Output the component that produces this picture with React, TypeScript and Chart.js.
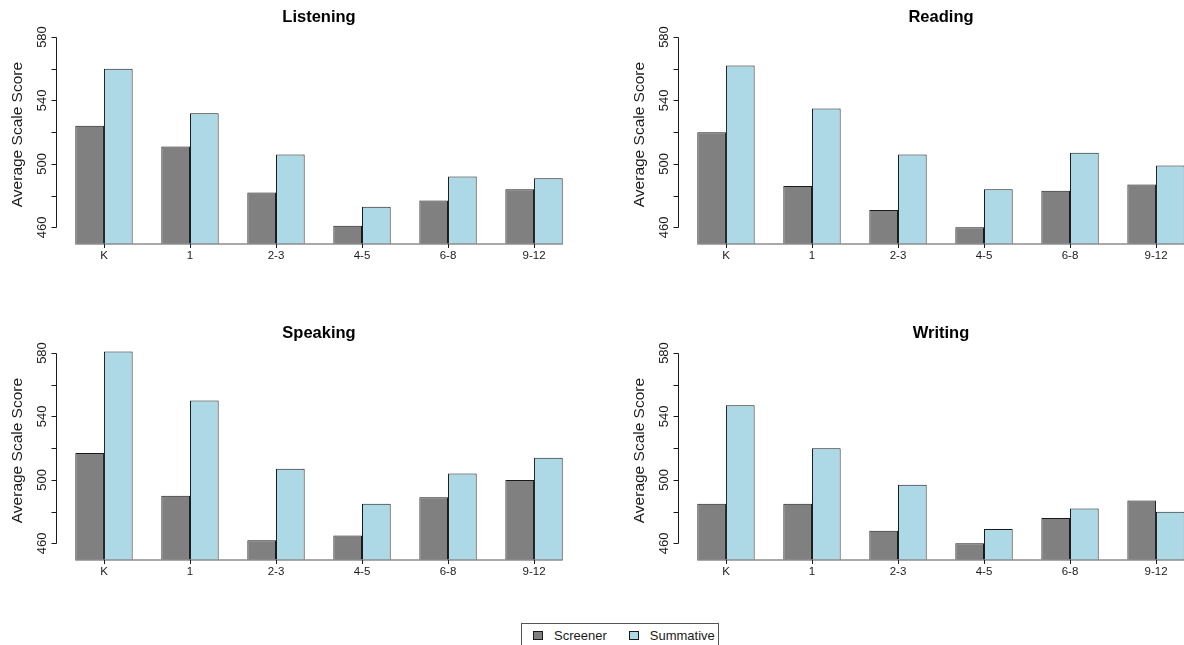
import { useEffect, useRef } from "react";
import { Chart, registerables } from "chart.js";

Chart.register(...registerables);

// Grade bands shown on every panel
const gradeBands = ["K", "1", "2-3", "4-5", "6-8", "9-12"];

// Average scale scores per domain
const listeningScreener = [524, 511, 482, 461, 477, 484];
const listeningSummative = [560, 532, 506, 473, 492, 491];
const readingScreener = [520, 486, 471, 460, 483, 487];
const readingSummative = [562, 535, 506, 484, 507, 499];
const speakingScreener = [517, 490, 462, 465, 489, 500];
const speakingSummative = [581, 550, 507, 485, 504, 514];
const writingScreener = [485, 485, 468, 460, 476, 487];
const writingSummative = [547, 520, 497, 469, 482, 480];

// Y axis tick marks and the subset that carries a label
const yTickMarks = [460, 480, 500, 520, 540, 560, 580];
const yTickLabels = [460, 500, 540, 580];

const seriesNames = ["Screener", "Summative"];
const seriesColors = ["#808080", "#ADD8E6"];

const Y_MIN = 449.5;
const Y_MAX = 585;

const FONT = '"Liberation Sans", Arial, Helvetica, sans-serif';
const INK = "#1a1a1a";
const PANEL_W = 600;
const PANEL_H = 300;

// Bars sit on a unit grid: group i spans [1 + 3i, 3 + 3i], centred at 2 + 3i
const groupCenters = gradeBands.map((_, i) => 2 + 3 * i);

const panelDecor = {
  id: "panelDecor",
  afterDraw(chart: any, _args: any, opts: any) {
    const { ctx, chartArea: area } = chart;
    const xs = chart.scales.x;
    const ys = chart.scales.y;
    ctx.save();

    // y axis line + ticks
    const ax = Math.round(area.left) + 0.5;
    const yLo = Math.round(ys.getPixelForValue(yTickMarks[0])) + 0.5;
    const yHi = Math.round(ys.getPixelForValue(yTickMarks[yTickMarks.length - 1])) + 0.5;
    ctx.strokeStyle = INK;
    ctx.lineWidth = 1;
    ctx.beginPath();
    ctx.moveTo(ax, yLo);
    ctx.lineTo(ax, yHi);
    for (const v of yTickMarks) {
      const py = Math.round(ys.getPixelForValue(v)) + 0.5;
      ctx.moveTo(ax, py);
      ctx.lineTo(ax - 5, py);
    }
    ctx.stroke();

    // rotated y tick labels
    ctx.fillStyle = INK;
    ctx.font = `13px ${FONT}`;
    ctx.textAlign = "center";
    ctx.textBaseline = "alphabetic";
    for (const v of yTickLabels) {
      const py = ys.getPixelForValue(v);
      ctx.save();
      ctx.translate(area.left - 10, py);
      ctx.rotate(-Math.PI / 2);
      ctx.fillText(String(v), 0, 0);
      ctx.restore();
    }

    // y axis title
    ctx.font = `15.5px ${FONT}`;
    ctx.save();
    ctx.translate(area.left - 33.5, (area.top + area.bottom) / 2 - 2);
    ctx.rotate(-Math.PI / 2);
    ctx.fillText("Average Scale Score", 0, 0);
    ctx.restore();

    // baseline under the bars
    const bx0 = xs.getPixelForValue(1);
    const bx1 = xs.getPixelForValue(3 * gradeBands.length);
    ctx.strokeStyle = "#8c8c8c";
    ctx.lineWidth = 1.5;
    ctx.beginPath();
    ctx.moveTo(bx0, area.bottom);
    ctx.lineTo(bx1, area.bottom);
    ctx.stroke();

    // category ticks and labels
    ctx.strokeStyle = INK;
    ctx.lineWidth = 1;
    ctx.beginPath();
    groupCenters.forEach((c) => {
      const px = Math.round(xs.getPixelForValue(c)) + 0.5;
      ctx.moveTo(px, area.bottom);
      ctx.lineTo(px, area.bottom + 4);
    });
    ctx.stroke();
    ctx.font = `11.5px ${FONT}`;
    ctx.textBaseline = "middle";
    groupCenters.forEach((c, i) => {
      ctx.fillText(gradeBands[i], xs.getPixelForValue(c), area.bottom + 12);
    });

    // panel title
    ctx.fillStyle = "#000";
    ctx.font = `bold 16.5px ${FONT}`;
    ctx.fillText(opts.title, (area.left + area.right) / 2, 17);

    ctx.restore();
  },
};

type PanelProps = {
  title: string;
  screener: number[];
  summative: number[];
  left: number;
  top: number;
};

function Panel({ title, screener, summative, left, top }: PanelProps) {
  const ref = useRef<HTMLCanvasElement>(null);

  useEffect(() => {
    const barStyle = {
      borderColor: INK,
      borderWidth: 1,
      borderSkipped: "start" as const,
      base: Y_MIN,
      clip: 0,
      categoryPercentage: 2 / 3,
      barPercentage: 1,
    };
    const chart = new Chart(ref.current as HTMLCanvasElement, {
      type: "bar",
      data: {
        datasets: [
          {
            label: seriesNames[0],
            data: groupCenters.map((x, i) => ({ x, y: screener[i] })),
            backgroundColor: seriesColors[0],
            ...barStyle,
          },
          {
            label: seriesNames[1],
            data: groupCenters.map((x, i) => ({ x, y: summative[i] })),
            backgroundColor: seriesColors[1],
            ...barStyle,
          },
        ],
      } as any,
      options: {
        responsive: false,
        animation: false,
        devicePixelRatio: 1,
        layout: { padding: { left: 55.8, right: 17.8, top: 29.1, bottom: 56 } },
        scales: {
          x: {
            type: "linear",
            min: 0.32,
            max: 18.68,
            offset: false,
            display: false,
            afterBuildTicks: (scale: any) => {
              scale.ticks = groupCenters.map((v) => ({ value: v }));
            },
          },
          y: { type: "linear", min: Y_MIN, max: Y_MAX, display: false },
        },
        plugins: {
          legend: { display: false },
          tooltip: { enabled: false },
          title: { display: false },
          panelDecor: { title },
        } as any,
      },
      plugins: [panelDecor],
    });
    return () => chart.destroy();
  }, [title, screener, summative]);

  return (
    <canvas
      ref={ref}
      width={PANEL_W}
      height={PANEL_H}
      style={{ position: "absolute", left, top, width: PANEL_W, height: PANEL_H }}
    />
  );
}

const panels = [
  { title: "Listening", screener: listeningScreener, summative: listeningSummative, left: 0, top: 0 },
  { title: "Reading", screener: readingScreener, summative: readingSummative, left: 622, top: 0 },
  { title: "Speaking", screener: speakingScreener, summative: speakingSummative, left: 0, top: 316 },
  { title: "Writing", screener: writingScreener, summative: writingSummative, left: 622, top: 316 },
];

function LegendSwatch({ color }: { color: string }) {
  return (
    <span
      style={{
        display: "inline-block",
        width: 8,
        height: 7,
        background: color,
        border: `1px solid ${INK}`,
        marginRight: 11,
      }}
    />
  );
}

export default function App() {
  return (
    <div
      style={{
        position: "fixed",
        left: 0,
        top: 0,
        width: 1184,
        height: 645,
        overflow: "hidden",
        background: "#fff",
      }}
    >
      {panels.map((p) => (
        <Panel key={p.title} {...p} />
      ))}
      <div
        style={{
          position: "absolute",
          left: 521,
          top: 623,
          width: 198,
          height: 30,
          border: "1px solid #555",
          fontFamily: FONT,
          fontSize: 13,
          color: INK,
          display: "flex",
          alignItems: "flex-start",
          paddingTop: 4,
          boxSizing: "border-box",
        }}
      >
        <span style={{ display: "flex", alignItems: "center", marginLeft: 11 }}>
          <LegendSwatch color={seriesColors[0]} />
          {seriesNames[0]}
        </span>
        <span style={{ display: "flex", alignItems: "center", marginLeft: 22 }}>
          <LegendSwatch color={seriesColors[1]} />
          {seriesNames[1]}
        </span>
      </div>
    </div>
  );
}
